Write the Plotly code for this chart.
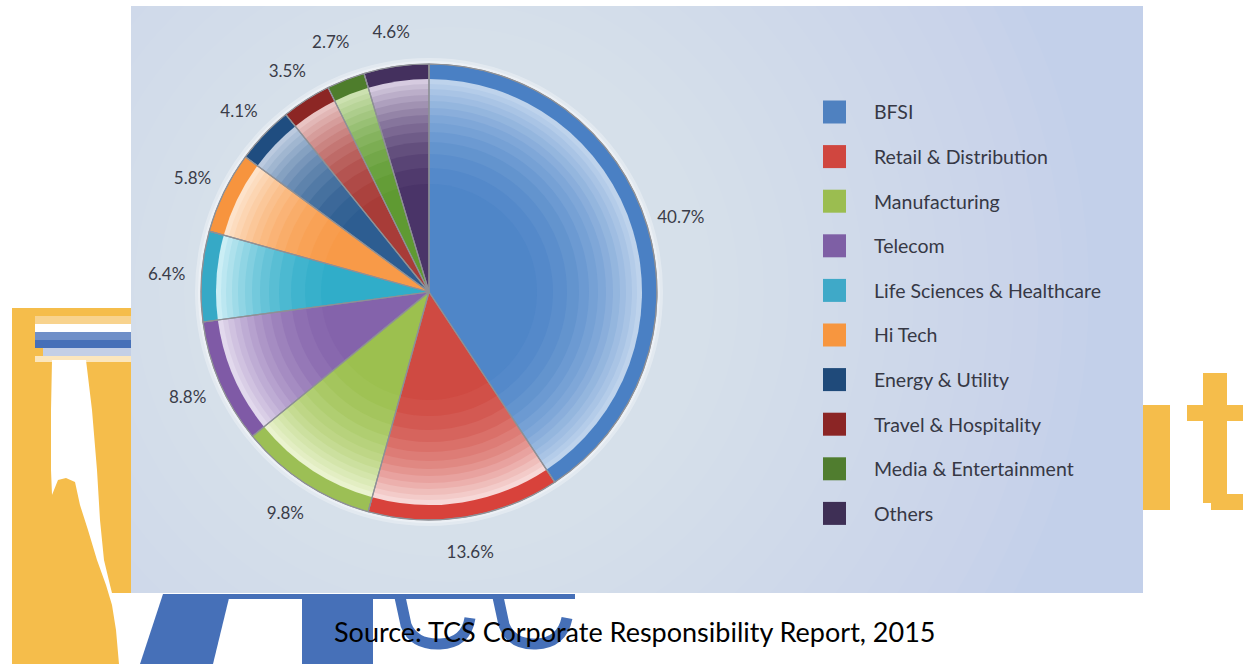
import plotly.graph_objects as go

# ---------------- data ----------------
categories = ["BFSI", "Retail & Distribution", "Manufacturing", "Telecom",
              "Life Sciences & Healthcare", "Hi Tech", "Energy & Utility",
              "Travel & Hospitality", "Media & Entertainment", "Others"]
shares = [40.7, 13.6, 9.8, 8.8, 6.4, 5.8, 4.1, 3.5, 2.7, 4.6]
source_note = "Source: TCS Corporate Responsibility Report, 2015"

# ---------------- styles ----------------
ring_colors = ["#4a80c4", "#d8423b", "#9cbf55", "#7f5aa6", "#36a9c6",
               "#f7943e", "#1f4d80", "#8c2624", "#4e7d2c", "#44305e"]
core_colors = ["#4f86c8", "#cf4a42", "#9cc04f", "#8463ab", "#30adc9",
               "#f89a48", "#2d5d91", "#a83c38", "#5f9a32", "#4a3468"]
pale_colors = ["#c4d7ee", "#f9e0df", "#eef6d6", "#e7dff0", "#d3f1f7",
               "#fde7d2", "#c2d0e3", "#eccbca", "#d2e5b7", "#ddd3e6"]
legend_colors = ["#4f81c0", "#d0463f", "#9bbd50", "#7e5fa5", "#3fa9c8",
                 "#f7963f", "#1f4a7a", "#8b2525", "#507d2f", "#3e2f55"]

W, H = 1248, 664
CX, CY, R = 429, 292, 228


def dom(r):
    return dict(x=[(CX - r) / W, (CX + r) / W],
                y=[(H - CY - r) / H, (H - CY + r) / H])


def hx(c):
    c = c.lstrip("#")
    return [int(c[i:i + 2], 16) for i in (0, 2, 4)]


def mix(c1, c2, t):
    a, b = hx(c1), hx(c2)
    return "#%02x%02x%02x" % tuple(round(a[i] * (1 - t) + b[i] * t) for i in range(3))


def P(x, y):
    return f"{x / W:.5f},{1 - y / H:.5f}"


def poly(pts):
    return "M " + " L ".join(P(x, y) for x, y in pts) + " Z"


def rect(x0, y0, x1, y1, color, **kw):
    d = dict(type="rect", xref="paper", yref="paper", x0=x0 / W, x1=x1 / W,
             y0=1 - y1 / H, y1=1 - y0 / H, fillcolor=color, line_width=0, layer="below")
    d.update(kw)
    return d


def circle(cx, cy, r, color, opacity):
    return dict(type="circle", xref="paper", yref="paper",
                x0=(cx - r) / W, x1=(cx + r) / W, y0=1 - (cy + r) / H, y1=1 - (cy - r) / H,
                fillcolor=color, opacity=opacity, line_width=0, layer="below")


def path(pts, color, **kw):
    d = dict(type="path", xref="paper", yref="paper", path=poly(pts),
             fillcolor=color, line_width=0, layer="below")
    d.update(kw)
    return d


ORANGE = "#f5bd4b"
BLUE = "#4670b8"

shapes = []
# panel with soft radial lightening
shapes.append(rect(131, 6, 1143, 593, "#c3d0ea"))
for k in range(16):
    shapes.append(circle(CX + 20, CY, 640 - k * 25, "#f2f5fc", 0.035))
# masks outside the panel
shapes.append(rect(0, 0, 131, H, "white"))
shapes.append(rect(1143, 0, W, H, "white"))
shapes.append(rect(0, 0, W, 6, "white"))
shapes.append(rect(0, 593, W, H, "white"))
# soft glow behind pie
shapes.append(circle(CX, CY, R + 6, "white", 0.3))
shapes.append(circle(CX, CY, R + 3, "white", 0.35))

# watermark pieces outside the panel (left)
shapes.append(rect(12, 308, 131, 664, ORANGE))
shapes.append(rect(35, 316, 131, 324, "#f8d38e"))
shapes.append(rect(35, 324, 131, 332, "white"))
shapes.append(rect(35, 332, 131, 340, "#6f8fc8"))
shapes.append(rect(35, 340, 131, 348, BLUE))
shapes.append(rect(43, 348, 131, 356, "#c3cfe6"))
shapes.append(rect(35, 356, 131, 362, "#fbe6bd"))
shapes.append(path([(52, 360), (86, 360), (92, 410), (97, 470), (100, 520), (104, 560),
                    (110, 585), (112, 593), (131, 593), (131, 664), (119, 664), (116, 630),
                    (112, 605), (106, 585), (97, 560), (88, 530), (80, 505), (75, 482),
                    (66, 478), (58, 480), (52, 495), (51, 470), (51, 410)], "white"))
# bottom blue pieces
shapes.append(rect(163, 594, 575, 599, BLUE))
shapes.append(path([(163, 594), (230, 594), (213, 664), (140, 664)], BLUE))
shapes.append(rect(302, 594, 373, 664, BLUE))
shapes.append(dict(type="path", xref="paper", yref="paper", layer="below",
                   path=f"M {P(400, 597)} L {P(406, 625)} Q {P(414, 645)} {P(440, 644)} "
                        f"Q {P(466, 643)} {P(470, 618)}",
                   line=dict(color=BLUE, width=11)))
shapes.append(dict(type="path", xref="paper", yref="paper", layer="below",
                   path=f"M {P(498, 597)} L {P(504, 625)} Q {P(512, 645)} {P(536, 644)} "
                        f"Q {P(562, 643)} {P(567, 618)}",
                   line=dict(color=BLUE, width=11)))
# right orange letters
shapes.append(rect(1143, 405, 1170, 510, ORANGE))
shapes.append(rect(1203, 373, 1227, 503, ORANGE))
shapes.append(rect(1187, 405, 1243, 421, ORANGE))
shapes.append(rect(1211, 494, 1243, 510, ORANGE))

# legend (keys + text)
annotations = []
row0, step = 112, 44.6
for i, (name, col) in enumerate(zip(categories, legend_colors)):
    yc = row0 + i * step
    shapes.append(rect(823, yc - 11.5, 846, yc + 11.5, col, layer="above"))
    annotations.append(dict(text=name, xref="paper", yref="paper", x=872 / W, y=1 - yc / H,
                            xanchor="left", yanchor="middle", showarrow=False,
                            font=dict(family="Lato", size=19.5, color="#363845")))

annotations.append(dict(text=source_note, xref="paper", yref="paper", x=635 / W, y=1 - 631 / H,
                        xanchor="center", yanchor="middle", showarrow=False,
                        font=dict(family="Lato", size=27, color="#000000")))

common = dict(labels=categories, values=shares, sort=False, direction="clockwise",
              rotation=0, showlegend=False, hoverinfo="label+percent")

fig = go.Figure()
# outer dark rim
fig.add_trace(go.Pie(**common, domain=dom(R), textinfo="none",
                     marker=dict(colors=ring_colors, line=dict(color="#8e9096", width=1))))
# inner body with stepped radial shading
layer_radii = [213, 208, 203, 197, 191, 184, 177, 169, 160, 150, 138, 124, 108]
pale_t = [0.95, 0.86, 0.77, 0.68, 0.59, 0.5, 0.41, 0.33, 0.25, 0.17, 0.1, 0.04, 0.0]
for rr, t in zip(layer_radii, pale_t):
    cols = [mix(c, p, t) for c, p in zip(core_colors, pale_colors)]
    fig.add_trace(go.Pie(**common, domain=dom(rr), textinfo="none",
                         marker=dict(colors=cols, line=dict(width=0))))
# slice separators
fig.add_trace(go.Pie(**common, domain=dom(R), textinfo="none",
                     marker=dict(colors=["rgba(0,0,0,0)"] * len(shares),
                                 line=dict(color="#8e9096", width=1.2))))
# percentage labels on a transparent outer ring
fig.add_trace(go.Pie(**common, domain=dom(292), hole=234 / 292,
                     texttemplate="%{value:.1f}%", textposition="inside",
                     insidetextorientation="horizontal",
                     textfont=dict(family="Lato", size=17, color="#3a3c48"),
                     marker=dict(colors=["rgba(0,0,0,0)"] * len(shares), line=dict(width=0))))

fig.update_layout(width=W, height=H, margin=dict(l=0, r=0, t=0, b=0),
                  paper_bgcolor="white", plot_bgcolor="white",
                  shapes=shapes, annotations=annotations,
                  uniformtext=dict(minsize=17, mode="show"))
fig.write_html("out.html", config={"displayModeBar": False},
               post_script="document.body.style.margin='0px';")
